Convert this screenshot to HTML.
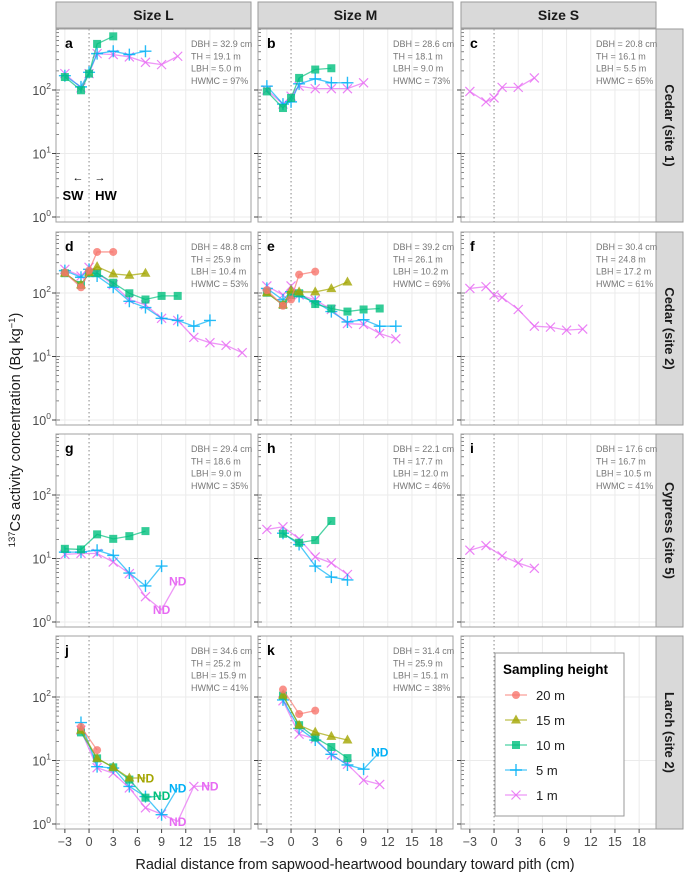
<!DOCTYPE html>
<html><head><meta charset="utf-8">
<style>
html,body{margin:0;padding:0;background:#fff;}
svg{display:block;font-family:"Liberation Sans",sans-serif;}
</style></head>
<body>
<svg id="chart" width="685" height="874" viewBox="0 0 685 874" xmlns="http://www.w3.org/2000/svg"></svg>
<script>
// ---- data ----
const colNames = ['Size L','Size M','Size S'];
const rowNames = ['Cedar (site 1)','Cedar (site 2)','Cypress (site 5)','Larch (site 2)'];
const xTicks = [-3,0,3,6,9,12,15,18];
const yDecades = [0,1,2];
const heightLabels = ['20 m','15 m','10 m','5 m','1 m'];
const heightKeys = ['20','15','10','5','1'];
const heightColors = ['#F8766D','#A3A500','#00BF7D','#00B0F6','#E76BF3'];

// panel a
const a10x=[-3,-1,0,1,3]; const a10y=[160,99,181,532,700];
const a5x=[-3,-1,0,1,3,5,7]; const a5y=[168,112,190,374,408,361,408];
const a1x=[-3,-1,0,1,3,5,7,9,11]; const a1y=[181,108,181,374,361,332,273,251,340];
// panel b
const b10x=[-3,-1,0,1,3,5]; const b10y=[95,52,75,155,210,220];
const b5x=[-3,-1,0,1,3,5,7]; const b5y=[115,60,65,125,150,130,130];
const b1x=[-3,-1,0,1,3,5,7,9]; const b1y=[100,60,80,115,105,105,105,130];
// panel c
const c1x=[-3,-1,0,1,3,5]; const c1y=[95,65,75,110,110,155];
// panel d
const d20x=[-3,-1,0,1,3]; const d20y=[209,123,225,443,443];
const d15x=[-3,-1,0,1,3,5,7]; const d15y=[205,134,209,260,200,190,205];
const d10x=[-3,-1,0,1,3,5,7,9,11]; const d10y=[205,134,205,205,145,99,79,90,90];
const d5x=[-3,-1,0,1,3,5,7,9,11,13,15]; const d5y=[225,177,236,185,123,74,59,40,37,30,37];
const d1x=[-3,-1,0,1,3,5,7,9,11,13,15,17,19]; const d1y=[236,185,254,209,135,79,65,40,37,20,16.5,15,11.5];
// panel e
const e20x=[-3,-1,0,1,3]; const e20y=[111,63,79,195,217];
const e15x=[-3,-1,0,1,3,5,7]; const e15y=[101,65,111,104,104,117,149];
const e10x=[-3,-1,0,1,3,5,7,9,11]; const e10y=[101,65,93,99,67,57,51,55,57];
const e5x=[-3,-1,0,1,3,5,7,9,11,13]; const e5y=[118,78,105,88,73,51,35,38,30,30];
const e1x=[-3,-1,0,1,3,5,7,9,11,13]; const e1y=[129,93,129,93,78,55,33,32,23,19];
// panel f
const f1x=[-3,-1,0,1,3,5,7,9,11]; const f1y=[118,126,93,85,55,30,29,26,27];
// panel g
const g10x=[-3,-1,1,3,5,7]; const g10y=[14.2,13.9,24,20.4,22.5,27];
const g5x=[-3,-1,1,3,5,7,9]; const g5y=[12.6,12.6,13.5,11.2,5.9,3.7,7.6];
const g1x=[-3,-1,1,3,5,7,9,11]; const g1y=[11.6,12,12,8.8,5.8,2.5,1.56,4.4]; const g1nd=[0,0,0,0,0,0,1,1];
// panel h
const h10x=[-1,1,3,5]; const h10y=[24.5,17.7,19.5,39];
const h5x=[-1,1,3,5,7]; const h5y=[25,16.6,7.6,5.1,4.6];
const h1x=[-3,-1,1,3,5,7]; const h1y=[28.7,31.6,20.4,10.6,8.5,5.6];
// panel i
const i1x=[-3,-1,1,3,5]; const i1y=[13.5,16,11,8.5,7];
// panel j
const j20x=[-1,1]; const j20y=[33.8,14.6];
const j15x=[-1,1,3,5,7]; const j15y=[30,10.8,7.8,5.3,5.3]; const j15nd=[0,0,0,0,1];
const j10x=[-1,1,3,5,7,9]; const j10y=[27.7,10.8,7.8,5,2.6,2.8]; const j10nd=[0,0,0,0,0,1];
const j5x=[-1,1,3,5,7,9,11]; const j5y=[39.6,8,7.6,3.9,2.7,1.4,3.7]; const j5nd=[0,0,0,0,0,0,1];
const j1x=[-1,1,3,5,7,9,11,13,15]; const j1y=[30,7.7,6.3,3.7,1.8,1.43,1.1,3.9,4.0]; const j1nd=[0,0,0,0,0,0,1,0,1];
// panel k
const k20x=[-1,1,3]; const k20y=[131,54,61];
const k15x=[-1,1,3,5,7]; const k15y=[107,36,28,24,21];
const k10x=[-1,1,3,5,7]; const k10y=[105,36,23,16.3,10.9];
const k5x=[-1,1,3,5,7,9,11]; const k5y=[90,32,21,12.5,8.5,7.3,13.6]; const k5nd=[0,0,0,0,0,0,1];
const k1x=[-1,1,3,5,7,9,11]; const k1y=[87,26,22,12.3,8.7,4.9,4.2];

const panelLetters=['a','b','c','d','e','f','g','h','i','j','k'];
const panelInfo={
 a:['DBH = 32.9 cm','TH = 19.1 m','LBH = 5.0 m','HWMC = 97%'],
 b:['DBH = 28.6 cm','TH = 18.1 m','LBH = 9.0 m','HWMC = 73%'],
 c:['DBH = 20.8 cm','TH = 16.1 m','LBH = 5.5 m','HWMC = 65%'],
 d:['DBH = 48.8 cm','TH = 25.9 m','LBH = 10.4 m','HWMC = 53%'],
 e:['DBH = 39.2 cm','TH = 26.1 m','LBH = 10.2 m','HWMC = 69%'],
 f:['DBH = 30.4 cm','TH = 24.8 m','LBH = 17.2 m','HWMC = 61%'],
 g:['DBH = 29.4 cm','TH = 18.6 m','LBH = 9.0 m','HWMC = 35%'],
 h:['DBH = 22.1 cm','TH = 17.7 m','LBH = 12.0 m','HWMC = 46%'],
 i:['DBH = 17.6 cm','TH = 16.7 m','LBH = 10.5 m','HWMC = 41%'],
 j:['DBH = 34.6 cm','TH = 25.2 m','LBH = 15.9 m','HWMC = 41%'],
 k:['DBH = 31.4 cm','TH = 25.9 m','LBH = 15.1 m','HWMC = 38%']
};
const seriesList=[
 ['a','1',a1x,a1y],['a','5',a5x,a5y],['a','10',a10x,a10y],
 ['b','1',b1x,b1y],['b','5',b5x,b5y],['b','10',b10x,b10y],
 ['c','1',c1x,c1y],
 ['d','1',d1x,d1y],['d','5',d5x,d5y],['d','10',d10x,d10y],['d','15',d15x,d15y],['d','20',d20x,d20y],
 ['e','1',e1x,e1y],['e','5',e5x,e5y],['e','10',e10x,e10y],['e','15',e15x,e15y],['e','20',e20x,e20y],
 ['f','1',f1x,f1y],
 ['g','1',g1x,g1y,g1nd],['g','5',g5x,g5y],['g','10',g10x,g10y],
 ['h','1',h1x,h1y],['h','5',h5x,h5y],['h','10',h10x,h10y],
 ['i','1',i1x,i1y],
 ['j','1',j1x,j1y,j1nd],['j','5',j5x,j5y,j5nd],['j','10',j10x,j10y,j10nd],['j','15',j15x,j15y,j15nd],['j','20',j20x,j20y],
 ['k','1',k1x,k1y],['k','5',k5x,k5y,k5nd],['k','10',k10x,k10y],['k','15',k15x,k15y],['k','20',k20x,k20y]
];

// ---- layout ----
const NS='http://www.w3.org/2000/svg';
const svg=document.getElementById('chart');
const colLeft=[56,258,461], PW=195;
const rowTop=[29,232,434,636], PH=193;
function el(tag,attrs,parent){const e=document.createElementNS(NS,tag);for(const k in attrs)e.setAttribute(k,attrs[k]);(parent||svg).appendChild(e);return e;}
function sx(c,x){return colLeft[c]+(x+4.1)*8.06;}
function sy(r,v){return rowTop[r]+61+(2-Math.log10(v))*63.5;}
function panelPos(letter){const i=panelLetters.indexOf(letter);return [Math.floor(i/3),i%3];}

function marker(g,key,x,y,col){
  let m;
  if(key==='20'){m=el('circle',{cx:x,cy:y,r:4,fill:col,'fill-opacity':0.8},g);}
  else if(key==='15'){m=el('polygon',{points:`${x},${y-5.5} ${x+5},${y+3.5} ${x-5},${y+3.5}`,fill:col,'fill-opacity':0.8},g);}
  else if(key==='10'){m=el('rect',{x:x-4,y:y-4,width:8,height:8,fill:col,'fill-opacity':0.8},g);}
  else if(key==='5'){m=el('path',{d:`M${x-6},${y}H${x+6}M${x},${y-6}V${y+6}`,stroke:col,'stroke-width':1.4,'stroke-opacity':0.85,fill:'none'},g);}
  else {m=el('path',{d:`M${x-4.5},${y-4.5}L${x+4.5},${y+4.5}M${x-4.5},${y+4.5}L${x+4.5},${y-4.5}`,stroke:col,'stroke-width':1.2,'stroke-opacity':0.85,fill:'none'},g);}
  return m;
}

colNames.forEach((n,c)=>{
  const g=el('g',{});
  
  
  el('rect',{x:colLeft[c],y:2,width:PW,height:26,fill:'#d9d9d9',stroke:'#9a9a9a','stroke-width':1},g);
  const t=el('text',{x:colLeft[c]+PW/2,y:20,'text-anchor':'middle','font-size':14,'font-weight':'bold',fill:'#1a1a1a'},g);
  t.textContent=n;
});
rowNames.forEach((n,r)=>{
  const g=el('g',{});
  
  
  el('rect',{x:656,y:rowTop[r],width:27,height:PH,fill:'#d9d9d9',stroke:'#9a9a9a','stroke-width':1},g);
  const cy=rowTop[r]+PH/2;
  const t=el('text',{x:665,y:cy,'text-anchor':'middle','font-size':13,'font-weight':'bold',fill:'#1a1a1a',transform:`rotate(90 665 ${cy})`},g);
  t.textContent=n;
});

for(let r=0;r<4;r++)for(let c=0;c<3;c++){
  const letter=panelLetters[r*3+c];
  const L=colLeft[c],T=rowTop[r];
  const g=el('g',{});
  
  
  el('rect',{x:L,y:T,width:PW,height:PH,fill:'#fff'},g);
  xTicks.forEach(x=>{ if(x!==0) el('line',{x1:sx(c,x),x2:sx(c,x),y1:T,y2:T+PH,stroke:'#ebebeb','stroke-width':1},g);});
  yDecades.forEach(d=>{el('line',{x1:L,x2:L+PW,y1:sy(r,Math.pow(10,d)),y2:sy(r,Math.pow(10,d)),stroke:'#ebebeb','stroke-width':1},g);});
  el('line',{x1:sx(c,0),x2:sx(c,0),y1:T,y2:T+PH,stroke:'#888','stroke-width':1,'stroke-dasharray':'1.5,2.5'},g);
  for(let d=0;d<3;d++)for(let k=1;k<=9;k++){
    const v=k*Math.pow(10,d); const y=sy(r,v);
    if(y<T||y>T+PH)continue;
    el('line',{x1:L,x2:L+(k===1?4:3),y1:y,y2:y,stroke:'#666','stroke-width':0.8},g);
  }
  el('rect',{x:L,y:T,width:PW,height:PH,fill:'none',stroke:'#a0a0a0','stroke-width':1},g);
  yDecades.forEach(d=>{el('line',{x1:L-4,x2:L,y1:sy(r,Math.pow(10,d)),y2:sy(r,Math.pow(10,d)),stroke:'#444','stroke-width':1},g);});
  if(r===3) xTicks.forEach(x=>{el('line',{x1:sx(c,x),x2:sx(c,x),y1:T+PH,y2:T+PH+4,stroke:'#444','stroke-width':1},g);});
  if(!letter || !panelInfo[letter]) continue;
  const lt=el('text',{x:L+9,y:T+19,'font-size':14,'font-weight':'bold',fill:'#000'},g);
  lt.textContent=letter;
  panelInfo[letter].forEach((s,i)=>{
    const t=el('text',{x:L+PW-60,y:T+18+i*12.3,'font-size':9,fill:'#777'},g);
    t.textContent=s;
  });
}

for(let r=0;r<4;r++){
  yDecades.forEach(d=>{
    const t=el('text',{x:51,y:sy(r,Math.pow(10,d))+5,'text-anchor':'end','font-size':12.5,fill:'#4d4d4d'});
    
    
    t.innerHTML='10<tspan font-size="8.5" dy="-6">'+d+'</tspan>';
  });
}
for(let c=0;c<3;c++) xTicks.forEach(x=>{
  const t=el('text',{x:sx(c,x),y:846,'text-anchor':'middle','font-size':12.5,fill:'#4d4d4d'});
  
  
  t.textContent=(x<0?'\u2212'+(-x):String(x));
});

(function(){
  const g=el('g',{});
  
  
  const a1=el('text',{x:78,y:181,'text-anchor':'middle','font-size':11,fill:'#000'},g); a1.textContent='\u2190';
  const a2=el('text',{x:100,y:181,'text-anchor':'middle','font-size':11,fill:'#000'},g); a2.textContent='\u2192';
  const s=el('text',{x:73,y:200,'text-anchor':'middle','font-size':13,'font-weight':'bold',fill:'#000'},g); s.textContent='SW';
  const h=el('text',{x:106,y:200,'text-anchor':'middle','font-size':13,'font-weight':'bold',fill:'#000'},g); h.textContent='HW';
})();

const drawOrder=['1','5','10','15','20'];
drawOrder.forEach(key=>{
  seriesList.filter(s=>s[1]===key).forEach(s=>{
    const [letter,k,xs,ys,nd]=s;
    const [r,c]=panelPos(letter);
    const col=heightColors[heightKeys.indexOf(k)];
    const g=el('g',{});
    
    
    const pts=xs.map((x,i)=>[sx(c,x),sy(r,ys[i])]);
    el('polyline',{points:pts.map(p=>p.join(',')).join(' '),fill:'none',stroke:col,'stroke-width':1.3,'stroke-opacity':0.7},g);
    pts.forEach((p,i)=>{
      if(nd&&nd[i]){
        const t=el('text',{x:p[0],y:p[1]+4.5,'text-anchor':'middle','font-size':12,'font-weight':'bold',fill:col},g);
        t.textContent='ND';
      } else {
        marker(g,k,p[0],p[1],col);
      }
    });
  });
});

(function(){
  const g=el('g',{});
  
  
  el('rect',{x:495,y:653,width:129,height:163,fill:'#fff',stroke:'#999','stroke-width':1},g);
  const t=el('text',{x:503,y:674,'font-size':13.5,'font-weight':'bold',fill:'#000'},g);
  t.textContent='Sampling height';
  heightLabels.forEach((lab,i)=>{
    const y=695+i*25;
    const e=el('g',{},g);
    
    
    el('line',{x1:505,x2:527,y1:y,y2:y,stroke:heightColors[i],'stroke-width':1.3,'stroke-opacity':0.7},e);
    marker(e,heightKeys[i],516,y,heightColors[i]);
    const tt=el('text',{x:536,y:y+5,'font-size':13,fill:'#222'},e);
    tt.textContent=lab;
  });
})();

(function(){
  const xt=el('text',{x:355,y:869,'text-anchor':'middle','font-size':14.5,fill:'#1a1a1a'});
  
  
  xt.textContent='Radial distance from sapwood-heartwood boundary toward pith (cm)';
  const yt=el('text',{x:20,y:430,'text-anchor':'middle','font-size':14.5,fill:'#1a1a1a',transform:'rotate(-90 20 430)'});
  
  
  yt.innerHTML='<tspan font-size="9.5" dy="-5">137</tspan><tspan dy="5">Cs activity concentration (Bq kg</tspan><tspan font-size="9.5" dy="-5">\u22121</tspan><tspan dy="5">)</tspan>';
})();
</script>
</body></html>
